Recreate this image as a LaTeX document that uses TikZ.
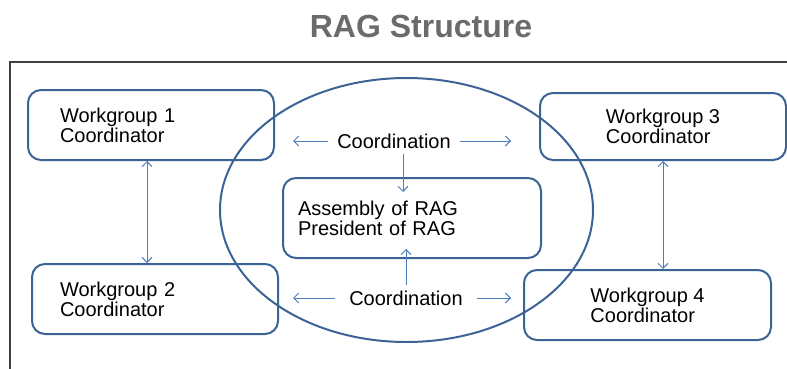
\documentclass[tikz,border=0pt]{standalone}
\usepackage{fontspec}
\setmainfont{Liberation Sans}
\usepackage{xcolor}
\usetikzlibrary{math,arrows.meta}
\definecolor{ragblue}{HTML}{3B6395}
\definecolor{ragarrow}{HTML}{4A7EBB}
\definecolor{raggrey}{HTML}{6B6B6B}
\definecolor{ragframe}{HTML}{404040}

\begin{document}
\begin{tikzpicture}[x=1pt, y=-1pt,
    wgbox/.style={draw=ragblue, line width=2pt, rounded corners=13pt, minimum height=70pt, align=left, font=\fontsize{20}{20}\selectfont},
    flow/.style={draw=ragarrow, line width=1pt, -{Straight Barb[length=5pt,width=10pt]}},
    flowboth/.style={flow, {Straight Barb[length=5pt,width=10pt]}-{Straight Barb[length=5pt,width=10pt]}},
    lbl/.style={inner xsep=9pt, inner ysep=5pt, font=\fontsize{20}{20}\selectfont}]
      \tikzmath{\cx = 406.5; \cy = 210; \rx = 186.5; \ry = 132; \tipl = 293; \tipr = 511;}
      \useasboundingbox (0,0) rectangle (787,369);
      \node[text=raggrey, font=\fontsize{32}{36}\selectfont\bfseries] (title) at (421,26) {RAG Structure};
      \draw[ragframe, line width=1.2pt] (10,369) -- (10,62) -- (787,62);
      \draw[ragblue, line width=2pt] (\cx,\cy) ellipse [x radius=\rx, y radius=\ry];
      \node[wgbox, text width=182pt, inner xsep=32pt] (wgone) at (151,125) {Workgroup 1\\Coordinator};
      \node[wgbox, text width=190pt, inner xsep=28pt] (wgtwo) at (155,299) {Workgroup 2\\Coordinator};
      \node[wgbox, minimum width=246pt, minimum height=67pt] (wgthree) at (663,126.5) {Workgroup 3\\Coordinator};
      \node[wgbox, minimum width=247pt] (wgfour) at (647.5,305) {Workgroup 4\\Coordinator};
      \node[wgbox, text width=228pt, inner xsep=15pt, minimum height=80pt] (assembly) at (412,218) {Assembly of RAG\\President of RAG};
      \node[lbl] (coordtop) at (394,141) {Coordination};
      \node[lbl, inner xsep=14pt] (coordbot) at (406,298) {Coordination};
      \coordinate (tiptl) at (\tipl,141);
      \coordinate (tiptr) at (\tipr,141);
      \coordinate (tipbl) at (\tipl,298);
      \coordinate (tipbr) at (\tipr,298);
      \draw[flow] (coordtop) -- (tiptl);
      \draw[flow] (coordtop) -- (tiptr);
      \draw[flow] (coordbot) -- (tipbl);
      \draw[flow] (coordbot) -- (tipbr);
      \draw[flow, shorten >=-15pt] ([xshift=9pt]coordtop.south) -- ([xshift=9pt]coordtop.south |- assembly.north);
      \draw[flow, shorten >=-10pt] (coordbot.north) -- (coordbot.north |- assembly.south);
      \draw[flowboth] ([xshift=-4pt]wgone.south) -- ([xshift=-4pt]wgone.south |- wgtwo.north);
      \draw[flowboth] (wgthree.south) -- (wgthree.south |- wgfour.north);
    \end{tikzpicture}
\end{document}
